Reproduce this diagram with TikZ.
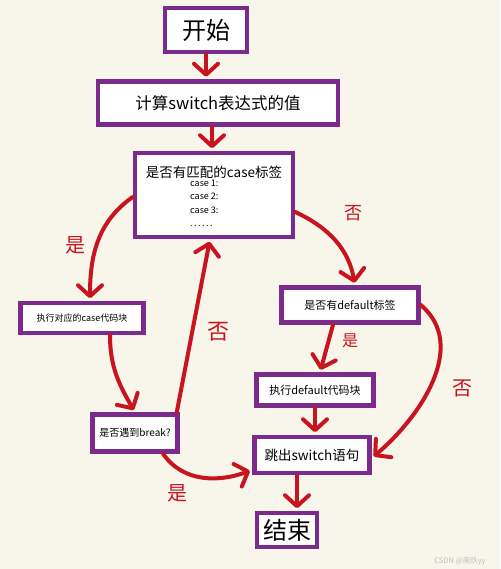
\documentclass[tikz,border=0pt]{standalone}
\usepackage{fontspec}
\setmainfont{Noto Sans CJK SC}
\usetikzlibrary{arrows.meta}
\definecolor{bgcream}{HTML}{F8F5EA}
\definecolor{boxpurple}{HTML}{7A2B8C}
\definecolor{arrred}{HTML}{C8141E}
\newcommand{\fsz}[1]{\fontsize{#1}{#1}\selectfont}

\begin{document}
\begin{tikzpicture}[x=1pt, y=1pt,
    box/.style={shape=rectangle, draw=boxpurple, line width=4.5pt, fill=white, inner sep=0pt},
    arr/.style={draw=arrred, line width=4pt, line cap=round,
      -{Straight Barb[length=11pt, width=24pt, line cap=round, line join=round]}, shorten >=2.5pt},
    lab/.style={text=arrred}]
      \fill[bgcream] (0,0) rectangle (500,-569);
      \useasboundingbox (0,0) rectangle (500,-569);

      \node[box, minimum width=82, minimum height=44, font=\fsz{24}] (start) at (206,-30) {开始};
      \node[box, minimum width=240, minimum height=43, font=\fsz{16.5}] (calc) at (218,-103) {计算switch表达式的值};
      \node[box, minimum width=158, minimum height=84] (match) at (214,-195) {};
      \node[anchor=center, font=\fsz{13.5}] (matchtxt) at (214,-172) {是否有匹配的case标签};
      \node[anchor=north west, align=left, inner sep=0pt, font=\fontsize{9}{13.3}\selectfont] (cases) at (190,-180) {case 1:\\case 2:\\case 3:\\.\,.\,.\,.\,.\,.};
      \node[box, minimum width=123, minimum height=30, font=\fsz{9}] (caseblk) at (82,-318) {执行对应的case代码块};
      \node[box, minimum width=85, minimum height=37, font=\fsz{10}] (brk) at (135,-433) {是否遇到break?};
      \node[box, minimum width=137, minimum height=35, font=\fsz{11}] (dflt) at (350,-305) {是否有default标签};
      \node[box, minimum width=117, minimum height=31, font=\fsz{11}] (dfltblk) at (315,-390) {执行default代码块};
      \node[box, minimum width=115, minimum height=36, font=\fsz{13.5}] (exitsw) at (312,-455) {跳出switch语句};
      \node[box, minimum width=60, minimum height=34, font=\fsz{24}] (end) at (287,-530) {结束};

      \draw[arr] (start.south) -- (start.south |- calc.north);
      \draw[arr] ([xshift=-6pt]calc.south) -- ([xshift=-6pt]calc.south |- match.north);
      \draw[arr] ([yshift=-2pt]match.west) to[out=215, in=90] ([xshift=8pt]caseblk.north);
      \draw[arr] ([xshift=28pt]caseblk.south) to[out=-90, in=120] (brk.north);
      \draw[arr] ([xshift=-3pt]brk.north east) -- ([xshift=-4pt]match.south);
      \draw[arr] ([yshift=-17pt]match.east) to[out=-25, in=100] ([xshift=5pt]dflt.north);
      \draw[arr] ([xshift=-17pt]dflt.south) -- ([xshift=5pt]dfltblk.north);
      \draw[arr] (dflt.east) to[out=-40, in=40] ([yshift=-3pt]exitsw.east);
      \draw[arr] (dfltblk.south) -- (dfltblk.south |- exitsw.north);
      \draw[arr] ([xshift=28pt]brk.south) to[out=-55, in=200] ([yshift=-15pt]exitsw.west);
      \draw[arr] ([xshift=-15pt]exitsw.south) -- ([xshift=-15pt]exitsw.south |- end.north);

      \node[lab, font=\fsz{20}] (yes1) at (75,-245) {是};
      \node[lab, font=\fsz{22}] (no1) at (218,-332) {否};
      \node[lab, font=\fsz{18}] (no2) at (353,-213) {否};
      \node[lab, font=\fsz{16}] (yes2) at (350,-341) {是};
      \node[lab, font=\fsz{20}] (no3) at (462,-388) {否};
      \node[lab, font=\fsz{20}] (yes3) at (177,-493) {是};

      \node[text=black!25, font=\fsz{7.5}] (mark) at (460,-561) {CSDN @南玖yy};
    \end{tikzpicture}
\end{document}
